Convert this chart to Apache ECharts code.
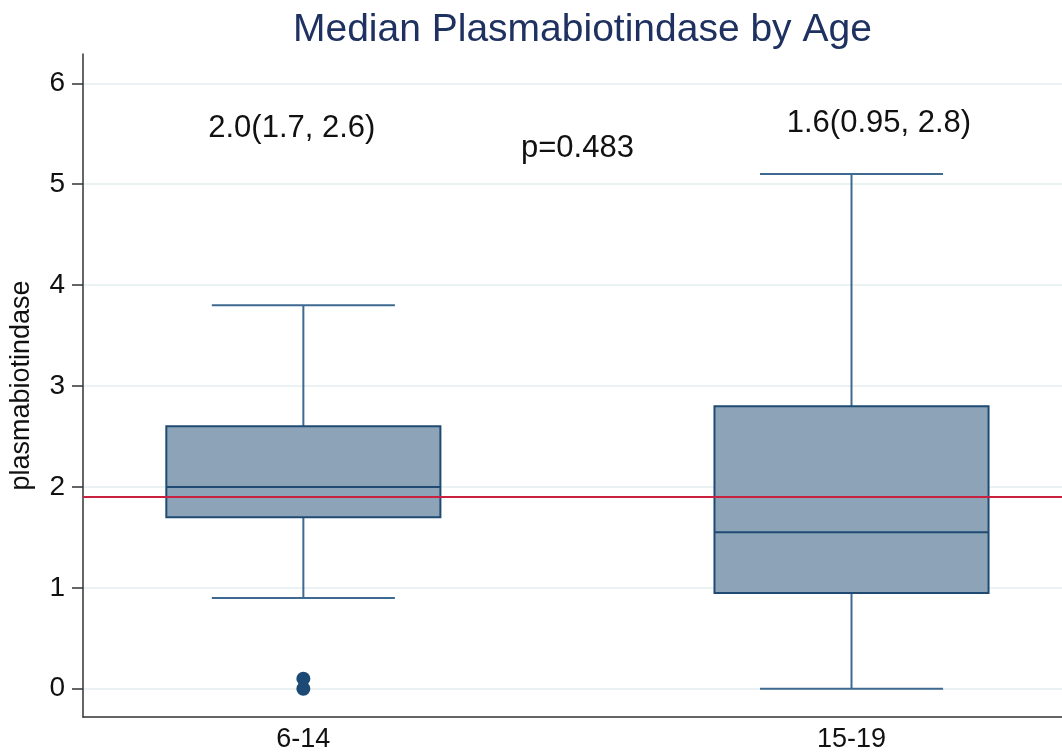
<!DOCTYPE html>
<html>
<head>
<meta charset="utf-8">
<script src="https://cdn.jsdelivr.net/npm/echarts@6/dist/echarts.min.js"></script>
<style>html,body{margin:0;padding:0;background:#fff;}#c{width:1062px;height:756px;}</style>
</head>
<body>
<div id="c"></div>
<script>
const categories = ['6-14', '15-19'];
const groupPos = [1, 2];
// [whiskerLow, q1, median, q3, whiskerHigh]
const boxStats = [
  [0.9, 1.7, 2.0, 2.6, 3.8],
  [0.0, 0.95, 1.55, 2.8, 5.1]
];
const outliers = [[1, 0.0], [1, 0.1]];
const referenceValue = 1.9;
const yTicks = [0, 1, 2, 3, 4, 5, 6];
const annotationTexts = ['2.0(1.7, 2.6)', 'p=0.483', '1.6(0.95, 2.8)'];
const annotationAt = [[0.979, 5.55], [1.50, 5.35], [2.05, 5.60]];
const titleText = 'Median Plasmabiotindase by Age';
const yName = 'plasmabiotindase';

const FONT = '"Liberation Sans", Arial, Helvetica, sans-serif';
const boxHalf = 0.25, capHalf = 0.167;
const boxFill = '#8da4b8', boxEdge = '#1f4b73', whisk = '#3e6990';

const chart = echarts.init(document.getElementById('c'), null, {renderer: 'canvas'});
chart.setOption({
  backgroundColor: '#ffffff',
  animation: false,
  title: {
    text: titleText, left: 288, top: 6,
    textStyle: {fontFamily: FONT, fontSize: 39, fontWeight: 'normal', color: '#1e3160'}
  },
  grid: {left: 80, right: 0, top: 54, bottom: 39, containLabel: false},
  xAxis: {
    type: 'value', min: 0.598, max: 2.384,
    axisLine: {show: true, onZero: false, lineStyle: {color: '#333', width: 1.5}},
    axisTick: {show: false},
    splitLine: {show: false},
    axisLabel: {
      customValues: groupPos,
      formatter: v => categories[groupPos.indexOf(Math.round(v))] || '',
      fontFamily: FONT, fontSize: 27, color: '#111', margin: 9
    }
  },
  yAxis: {
    type: 'value', min: -0.28, max: 6.29,
    name: yName, nameLocation: 'middle', nameGap: 48,
    nameTextStyle: {fontFamily: FONT, fontSize: 27, color: '#111'},
    axisLine: {show: true, onZero: false, lineStyle: {color: '#333', width: 1.5}},
    axisTick: {show: true, customValues: yTicks, length: 11, lineStyle: {color: '#333', width: 1.5}},
    axisLabel: {customValues: yTicks, fontFamily: FONT, fontSize: 28, color: '#111', margin: 18},
    splitLine: {show: true, lineStyle: {color: '#e5eef0', width: 1.5}}
  },
  series: [
    {
      type: 'line', data: [], z: 1,
      markLine: {
        silent: true, symbol: ['none', 'none'], label: {show: false},
        lineStyle: {color: '#c8203f', width: 2, type: 'solid'},
        data: [{yAxis: referenceValue}]
      }
    },
    {
      type: 'custom', z: 3,
      data: boxStats.map((s, i) => [groupPos[i]].concat(s)),
      encode: {x: 0, y: [1, 2, 3, 4, 5]},
      renderItem: function (params, api) {
        const x = api.value(0);
        const lo = api.coord([x, api.value(1)]);
        const q1 = api.coord([x, api.value(2)]);
        const md = api.coord([x, api.value(3)]);
        const q3 = api.coord([x, api.value(4)]);
        const hi = api.coord([x, api.value(5)]);
        const bl = api.coord([x - boxHalf, 0])[0], br = api.coord([x + boxHalf, 0])[0];
        const cl = api.coord([x - capHalf, 0])[0], cr = api.coord([x + capHalf, 0])[0];
        const ls = {stroke: whisk, lineWidth: 2};
        return {
          type: 'group',
          children: [
            {type: 'line', shape: {x1: hi[0], y1: hi[1], x2: q3[0], y2: q3[1]}, style: ls},
            {type: 'line', shape: {x1: lo[0], y1: lo[1], x2: q1[0], y2: q1[1]}, style: ls},
            {type: 'line', shape: {x1: cl, y1: hi[1], x2: cr, y2: hi[1]}, style: ls},
            {type: 'line', shape: {x1: cl, y1: lo[1], x2: cr, y2: lo[1]}, style: ls},
            {type: 'rect', shape: {x: bl, y: q3[1], width: br - bl, height: q1[1] - q3[1]},
              style: {fill: boxFill, stroke: boxEdge, lineWidth: 2}},
            {type: 'line', shape: {x1: bl, y1: md[1], x2: br, y2: md[1]}, style: {stroke: boxEdge, lineWidth: 2}}
          ]
        };
      }
    },
    {
      type: 'scatter', z: 4, data: outliers, symbol: 'circle', symbolSize: 14,
      itemStyle: {color: '#1d4a75', opacity: 1}
    },
    {
      type: 'custom', z: 5,
      data: annotationAt.map((p, i) => [p[0], p[1], i]),
      renderItem: function (params, api) {
        const p = api.coord([api.value(0), api.value(1)]);
        return {
          type: 'text', x: p[0], y: p[1],
          style: {text: annotationTexts[api.value(2)], fill: '#111', font: '31px ' + FONT,
            align: 'center', verticalAlign: 'middle'}
        };
      }
    }
  ]
});
</script>
</body>
</html>
